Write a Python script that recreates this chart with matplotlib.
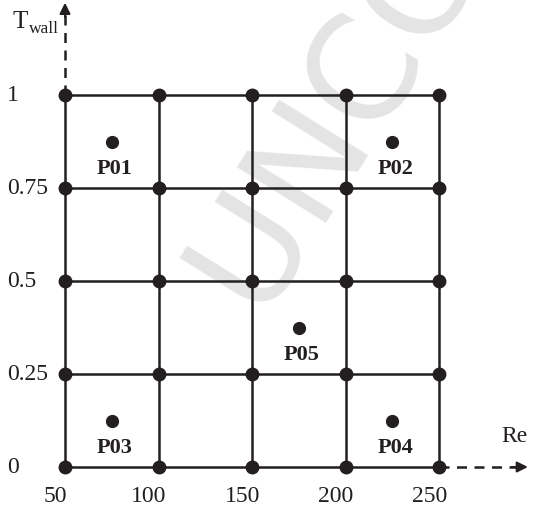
import numpy as np
import matplotlib
matplotlib.use('Agg')
import matplotlib.pyplot as plt

# design grid
re_vals = [50, 100, 150, 200, 250]
tw_vals = [0, 0.25, 0.5, 0.75, 1]
re_labels = ['50', '100', '150', '200', '250']
tw_labels = ['0', '0.25', '0.5', '0.75', '1']

# test points inside the grid
pt_names = ['P01', 'P02', 'P03', 'P04', 'P05']
pt_re = [75, 225, 75, 225, 175]
pt_tw = [0.875, 0.875, 0.125, 0.125, 0.375]

serif = 'Liberation Serif'

fig = plt.figure(figsize=(5.38, 5.07), dpi=100)
ax = fig.add_axes([0, 0, 1, 1])
ax.set_xlim(15.24, 302.9)
ax.set_ylim(-0.1075, 1.2554)
ax.axis('off')

# watermark
ax.text(156, 0.385, 'UNCORRECTED PROOF', rotation=58, rotation_mode='anchor',
        ha='left', va='baseline', fontsize=104, color='#e4e4e4',
        family='DejaVu Sans', zorder=0)

# grid lines
for t in tw_vals:
    ax.plot([re_vals[0], re_vals[-1]], [t, t], color='#231f20', lw=1.8, zorder=2)
for r in re_vals:
    ax.plot([r, r], [tw_vals[0], tw_vals[-1]], color='#231f20', lw=1.8, zorder=2)

rr, tt = np.meshgrid(re_vals, tw_vals)
ax.plot(rr.ravel(), tt.ravel(), 'o', color='#231f20', ms=9, zorder=3)

# dashed axes with arrow heads
ax.plot([250, 291], [0, 0], color='#231f20', lw=1.8, ls=(0, (4, 3)), zorder=2)
ax.annotate('', xy=(297.5, 0), xytext=(289, 0),
            arrowprops=dict(arrowstyle='-|>', color='#231f20', lw=1.5,
                            mutation_scale=16, shrinkA=0, shrinkB=0))
ax.plot([50, 50], [1, 1.215], color='#231f20', lw=1.8, ls=(0, (4, 3)), zorder=2)
ax.annotate('', xy=(50, 1.248), xytext=(50, 1.21),
            arrowprops=dict(arrowstyle='-|>', color='#231f20', lw=1.5,
                            mutation_scale=16, shrinkA=0, shrinkB=0))

# test points and names
ax.plot(pt_re, pt_tw, 'o', color='#231f20', ms=8.5, zorder=3)
for name, r, t in zip(pt_names, pt_re, pt_tw):
    ax.annotate(name, xy=(r, t), xytext=(2, -20), textcoords='offset points',
                ha='center', va='center', fontsize=16, fontweight='bold',
                family=serif, color='#231f20')

# tick labels
for r, lab in zip(re_vals, re_labels):
    ax.annotate(lab, xy=(r, 0), xytext=(-7, -21), textcoords='offset points',
                ha='center', va='center', fontsize=17, family=serif, color='#231f20')
for t, lab in zip(tw_vals, tw_labels):
    ax.annotate(lab, xy=(50, t), xytext=(-42, 0), textcoords='offset points',
                ha='left', va='center', fontsize=17, family=serif, color='#231f20')

# axis names
ax.annotate('T', xy=(50, 1.2), xytext=(-38, -1), textcoords='offset points',
            ha='left', va='center', fontsize=18, family=serif, color='#231f20')
ax.annotate('wall', xy=(50, 1.2), xytext=(-26, -6), textcoords='offset points',
            ha='left', va='center', fontsize=12.5, family=serif, color='#231f20')
ax.annotate('Re', xy=(297.5, 0), xytext=(-10, 22), textcoords='offset points',
            ha='center', va='center', fontsize=17, family=serif, color='#231f20')

fig.savefig('out.png', dpi=100)
